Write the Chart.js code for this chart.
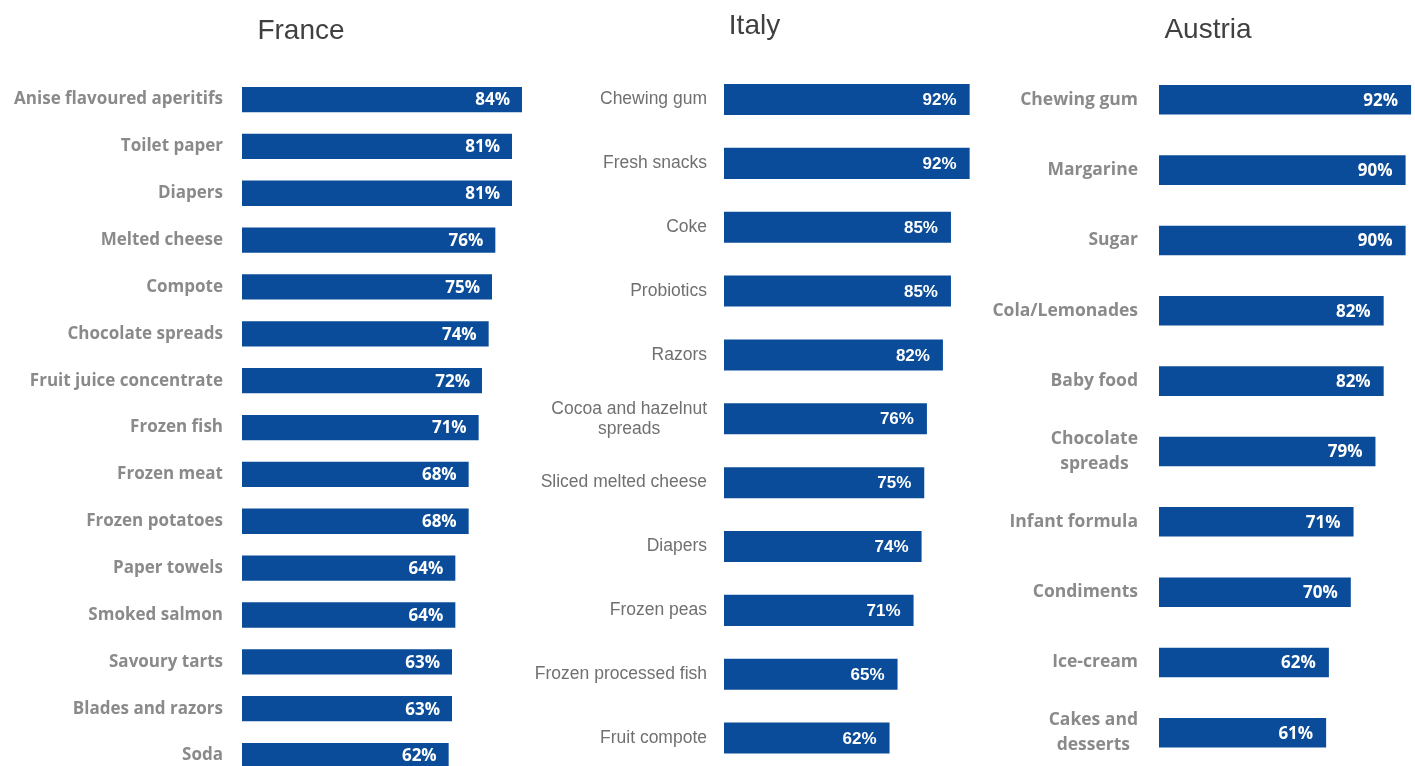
<!DOCTYPE html>
<html>
<head>
<meta charset="utf-8">
<script src="https://cdn.jsdelivr.net/npm/chart.js@4.4.1/dist/chart.umd.min.js"></script>
<style>
  html, body { margin: 0; padding: 0; background: #ffffff; width: 1415px; height: 766px; overflow: hidden; }
  canvas { position: absolute; top: 0; }
</style>
</head>
<body>
<canvas id="france"></canvas>
<canvas id="italy"></canvas>
<canvas id="austria"></canvas>
<script>
// ---- DATA ----
const franceTitle = "France";
const franceLabels = ["Anise flavoured aperitifs", "Toilet paper", "Diapers", "Melted cheese", "Compote",
  "Chocolate spreads", "Fruit juice concentrate", "Frozen fish", "Frozen meat", "Frozen potatoes",
  "Paper towels", "Smoked salmon", "Savoury tarts", "Blades and razors", "Soda"];
const franceValues = [84, 81, 81, 76, 75, 74, 72, 71, 68, 68, 64, 64, 63, 63, 62];

const italyTitle = "Italy";
const italyLabels = ["Chewing gum", "Fresh snacks", "Coke", "Probiotics", "Razors",
  ["Cocoa and hazelnut", "spreads"], "Sliced melted cheese", "Diapers", "Frozen peas",
  "Frozen processed fish", "Fruit compote"];
const italyValues = [92, 92, 85, 85, 82, 76, 75, 74, 71, 65, 62];

const austriaTitle = "Austria";
const austriaLabels = ["Chewing gum", "Margarine", "Sugar", "Cola/Lemonades", "Baby food",
  ["Chocolate", "spreads"], "Infant formula", "Condiments", "Ice-cream", ["Cakes and", "desserts"]];
const austriaValues = [92, 90, 90, 82, 82, 79, 71, 70, 62, 61];

// ---- PLUGINS ----
const categoryLabelPlugin = {
  id: 'categoryLabels',
  afterDraw(chart, args, opts) {
    const ctx = chart.ctx;
    const yScale = chart.scales.y;
    const xRight = chart.chartArea.left - opts.gap;
    ctx.save();
    ctx.font = opts.font;
    ctx.fillStyle = opts.color;
    ctx.textAlign = 'center';
    ctx.textBaseline = 'middle';
    chart.data.labels.forEach((lab, i) => {
      const lines = Array.isArray(lab) ? lab : [lab];
      const maxW = Math.max(...lines.map(l => ctx.measureText(l).width));
      const cx = xRight - maxW / 2;
      const yc = yScale.getPixelForValue(i);
      const y0 = yc - (lines.length - 1) * opts.lineHeight / 2;
      lines.forEach((l, k) => ctx.fillText(l, cx, y0 + k * opts.lineHeight));
    });
    ctx.restore();
  }
};

const valueLabelPlugin = {
  id: 'valueLabels',
  afterDatasetsDraw(chart, args, opts) {
    const ctx = chart.ctx;
    const meta = chart.getDatasetMeta(0);
    const data = chart.data.datasets[0].data;
    ctx.save();
    ctx.font = opts.font;
    ctx.fillStyle = '#ffffff';
    ctx.textAlign = 'right';
    ctx.textBaseline = 'middle';
    meta.data.forEach((bar, i) => {
      ctx.fillText(data[i] + '%', bar.x - opts.pad, bar.y + 1);
    });
    ctx.restore();
  }
};

function makePanel(id, title, labels, values, cfg) {
  const canvas = document.getElementById(id);
  canvas.width = cfg.width;
  canvas.height = cfg.height;
  canvas.style.left = cfg.left + 'px';
  canvas.style.width = cfg.width + 'px';
  canvas.style.height = cfg.height + 'px';
  return new Chart(canvas, {
    type: 'bar',
    data: {
      labels: labels,
      datasets: [{
        data: values,
        backgroundColor: '#0a4c99',
        borderWidth: 0,
        barPercentage: cfg.barPct,
        categoryPercentage: 1
      }]
    },
    options: {
      indexAxis: 'y',
      responsive: false,
      animation: false,
      devicePixelRatio: 1,
      layout: { padding: 0 },
      scales: {
        x: { display: false, min: 0, max: cfg.xMax },
        y: {
          display: true,
          grid: { display: false, drawTicks: false },
          border: { display: false },
          ticks: { display: false },
          afterFit(scale) { scale.width = cfg.axisW; }
        }
      },
      plugins: {
        legend: { display: false },
        tooltip: { enabled: false },
        title: {
          display: true,
          text: title,
          color: '#404040',
          font: { family: cfg.titleFont, size: cfg.titleSize, weight: 'normal' },
          padding: { top: cfg.titleTop, bottom: cfg.titleBottom }
        },
        categoryLabels: { font: cfg.labelFont, color: cfg.labelColor, gap: cfg.gap, lineHeight: cfg.lineHeight },
        valueLabels: { font: cfg.valueFont, pad: cfg.valuePad }
      }
    },
    plugins: [categoryLabelPlugin, valueLabelPlugin]
  });
}

makePanel('france', franceTitle, franceLabels, franceValues, {
  left: 0, width: 602, height: 779, axisW: 242, xMax: 108,
  barPct: 0.54,
  titleFont: "'Liberation Sans', Arial, sans-serif", titleSize: 28, titleTop: 14, titleBottom: 28.5,
  labelFont: "bold 17px 'Open Sans', Lato, sans-serif", labelColor: '#8a8a8a', gap: 19, lineHeight: 24,
  valueFont: "bold 17px 'Open Sans', Lato, sans-serif", valuePad: 12
});

makePanel('italy', italyTitle, italyLabels, italyValues, {
  left: 518, width: 473, height: 770, axisW: 206, xMax: 100,
  barPct: 0.486,
  titleFont: "'Liberation Sans', Arial, sans-serif", titleSize: 28, titleTop: 9, titleBottom: 25,
  labelFont: "17.5px 'Liberation Sans', Arial, sans-serif", labelColor: '#707070', gap: 17, lineHeight: 20,
  valueFont: "bold 17px 'Liberation Sans', Arial, sans-serif", valuePad: 13
});

makePanel('austria', austriaTitle, austriaLabels, austriaValues, {
  left: 983, width: 450, height: 768, axisW: 176, xMax: 100,
  barPct: 0.42,
  titleFont: "'Liberation Sans', Arial, sans-serif", titleSize: 28, titleTop: 13.5, titleBottom: 17.5,
  labelFont: "bold 17.5px 'Open Sans', Lato, sans-serif", labelColor: '#8a8a8a', gap: 21, lineHeight: 25,
  valueFont: "bold 17px 'Open Sans', Lato, sans-serif", valuePad: 13
});
</script>
</body>
</html>
